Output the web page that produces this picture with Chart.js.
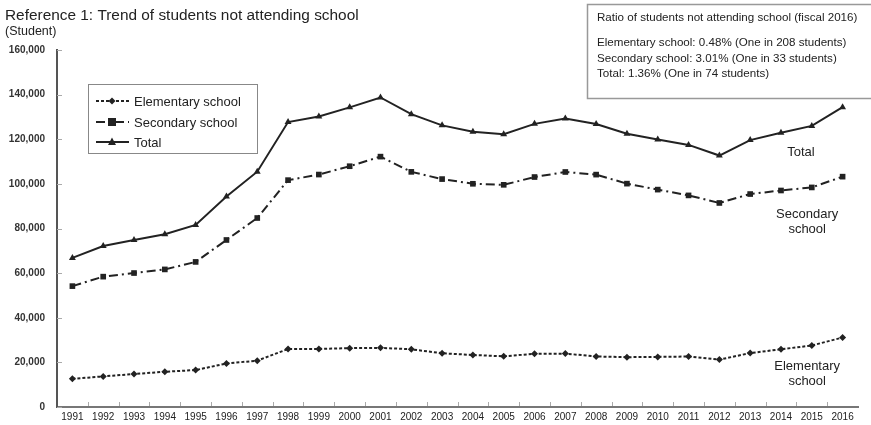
<!DOCTYPE html>
<html>
<head>
<meta charset="utf-8">
<script src="https://cdn.jsdelivr.net/npm/chart.js@4/dist/chart.umd.min.js"></script>
<style>
  html, body { margin: 0; padding: 0; background: #fff; }
  #wrap { width: 871px; height: 425px; position: relative; }
</style>
</head>
<body>
<div id="wrap"><canvas id="c" width="871" height="425"></canvas></div>
<script>
// Students not attending school, fiscal 1991–2016
const years = ['1991','1992','1993','1994','1995','1996','1997','1998','1999','2000','2001','2002','2003',
               '2004','2005','2006','2007','2008','2009','2010','2011','2012','2013','2014','2015','2016'];
const elementary = [12645, 13710, 14769, 15786, 16569, 19498, 20765, 26017, 26047, 26373, 26511, 25869, 24077,
                    23318, 22709, 23825, 23927, 22652, 22327, 22463, 22622, 21243, 24175, 25864, 27583, 31151];
const secondary  = [54172, 58421, 60039, 61663, 65022, 74853, 84701, 101675, 104180, 107913, 112211, 105383, 102149,
                    100040, 99578, 103069, 105328, 104153, 100105, 97428, 94836, 91446, 95442, 97033, 98408, 103235];
const total      = [66817, 72131, 74808, 77449, 81591, 94351, 105466, 127692, 130227, 134286, 138722, 131252, 126226,
                    123358, 122287, 126894, 129255, 126805, 122432, 119891, 117458, 112689, 119617, 122897, 125991, 134386];
const yTicks = [0, 20000, 40000, 60000, 80000, 100000, 120000, 140000, 160000];
const seriesNames = ['Elementary school', 'Secondary school', 'Total'];
const ratioLines = [
  'Ratio of students not attending school (fiscal 2016)',
  'Elementary school: 0.48% (One in 208 students)',
  'Secondary school: 3.01% (One in 33 students)',
  'Total: 1.36% (One in 74 students)'
];

const FONT = '"Liberation Sans", Arial, sans-serif';
const INK = '#222';

function drawMarker(ctx, style, x, y, r) {
  ctx.beginPath();
  if (style === 'rectRot') {
    ctx.moveTo(x, y - r); ctx.lineTo(x + r, y); ctx.lineTo(x, y + r); ctx.lineTo(x - r, y);
  } else if (style === 'rect') {
    ctx.rect(x - r, y - r, 2 * r, 2 * r);
  } else {
    ctx.moveTo(x, y - r * 1.15); ctx.lineTo(x + r, y + r * 0.75); ctx.lineTo(x - r, y + r * 0.75);
  }
  ctx.closePath();
  ctx.fill();
}

const decor = {
  id: 'decor',
  beforeDatasetsDraw(chart) {
    const { ctx, chartArea: a, scales: { y } } = chart;
    ctx.save();
    // small category separators along the base line
    ctx.strokeStyle = '#aaa';
    ctx.lineWidth = 1;
    const n = years.length;
    for (let i = 1; i < n; i++) {
      const px = Math.round(a.left + i * (a.right - a.left) / n) + 0.5;
      ctx.beginPath(); ctx.moveTo(px, a.bottom - 1); ctx.lineTo(px, a.bottom - 5); ctx.stroke();
    }
    // short marks on the value axis
    yTicks.forEach(v => {
      const py = Math.round(y.getPixelForValue(v)) + 0.5;
      ctx.beginPath(); ctx.moveTo(a.left, py); ctx.lineTo(a.left + 5, py); ctx.stroke();
    });
    ctx.restore();
  },
  afterDraw(chart) {
    const { ctx, scales: { x, y } } = chart;
    ctx.save();
    ctx.fillStyle = INK;
    ctx.textBaseline = 'alphabetic';
    ctx.textAlign = 'left';
    ctx.font = '15.4px ' + FONT;
    ctx.fillText('Reference 1: Trend of students not attending school', 5, 20);
    ctx.font = '12.5px ' + FONT;
    ctx.fillText('(Student)', 5, 35);

    // legend
    ctx.fillStyle = '#fff';
    ctx.fillRect(88, 84, 169, 69);
    ctx.strokeStyle = '#888';
    ctx.lineWidth = 1;
    ctx.strokeRect(88.5, 84.5, 169, 69);
    const rows = [101, 122, 142];
    chart.data.datasets.forEach((ds, i) => {
      const ly = rows[i];
      ctx.strokeStyle = INK;
      ctx.lineWidth = 2;
      ctx.setLineDash(ds.borderDash || []);
      ctx.beginPath(); ctx.moveTo(96, ly); ctx.lineTo(129, ly); ctx.stroke();
      ctx.setLineDash([]);
      ctx.fillStyle = INK;
      drawMarker(ctx, ds.pointStyle, 112, ly, ds.pointRadius);
      ctx.font = '13px ' + FONT;
      ctx.fillText(ds.label, 134, ly + 5);
    });

    // fiscal 2016 ratio box
    ctx.fillStyle = '#fff';
    ctx.fillRect(587, 4, 284, 95);
    ctx.strokeStyle = '#999';
    ctx.lineWidth = 1.5;
    ctx.strokeRect(587.5, 4.5, 290, 94);
    ctx.fillStyle = INK;
    ctx.font = '11.6px ' + FONT;
    const base = [21, 46, 62, 77];
    ratioLines.forEach((t, i) => ctx.fillText(t, 597, base[i]));

    // series names beside the line ends
    ctx.font = '13px ' + FONT;
    ctx.textAlign = 'center';
    ctx.textBaseline = 'middle';
    ctx.fillText('Total', x.getPixelForValue(23.65), y.getPixelForValue(114000));
    const sx = x.getPixelForValue(23.85);
    ctx.fillText('Secondary', sx, y.getPixelForValue(86300));
    ctx.fillText('school', sx, y.getPixelForValue(79600));
    ctx.fillText('Elementary', sx, y.getPixelForValue(18300));
    ctx.fillText('school', sx, y.getPixelForValue(11600));
    ctx.restore();
  }
};

new Chart(document.getElementById('c'), {
  type: 'line',
  data: {
    labels: years,
    datasets: [
      { label: seriesNames[0], data: elementary, borderColor: INK, backgroundColor: INK, borderWidth: 2,
        borderDash: [3, 2], pointStyle: 'rectRot', pointRadius: 3.5, pointBorderWidth: 0, tension: 0 },
      { label: seriesNames[1], data: secondary, borderColor: INK, backgroundColor: INK, borderWidth: 2,
        borderDash: [9, 4, 2, 4], pointStyle: 'rect', pointRadius: 4, pointBorderWidth: 0, tension: 0 },
      { label: seriesNames[2], data: total, borderColor: INK, backgroundColor: INK, borderWidth: 2,
        pointStyle: 'triangle', pointRadius: 4, pointBorderWidth: 0, tension: 0 }
    ]
  },
  options: {
    responsive: false,
    animation: false,
    devicePixelRatio: 1,
    layout: { padding: { top: 50, right: 13, left: 0, bottom: 0 } },
    plugins: { legend: { display: false }, title: { display: false }, tooltip: { enabled: false } },
    scales: {
      x: {
        offset: true,
        grid: { display: false, drawTicks: false },
        border: { display: true, color: '#777', width: 2 },
        ticks: { color: INK, font: { family: FONT, size: 10 }, padding: 4, maxRotation: 0, autoSkip: false },
        afterFit(s) { s.height = 17; }
      },
      y: {
        min: 0, max: 160000,
        grid: { display: false, drawTicks: false },
        border: { display: true, color: '#555', width: 2 },
        ticks: {
          stepSize: 20000, padding: 12, color: '#333',
          font: { family: FONT, size: 10, weight: 'bold' },
          callback: v => v.toLocaleString('en-US')
        },
        afterFit(s) { s.width = 57; }
      }
    }
  },
  plugins: [decor]
});
</script>
</body>
</html>
